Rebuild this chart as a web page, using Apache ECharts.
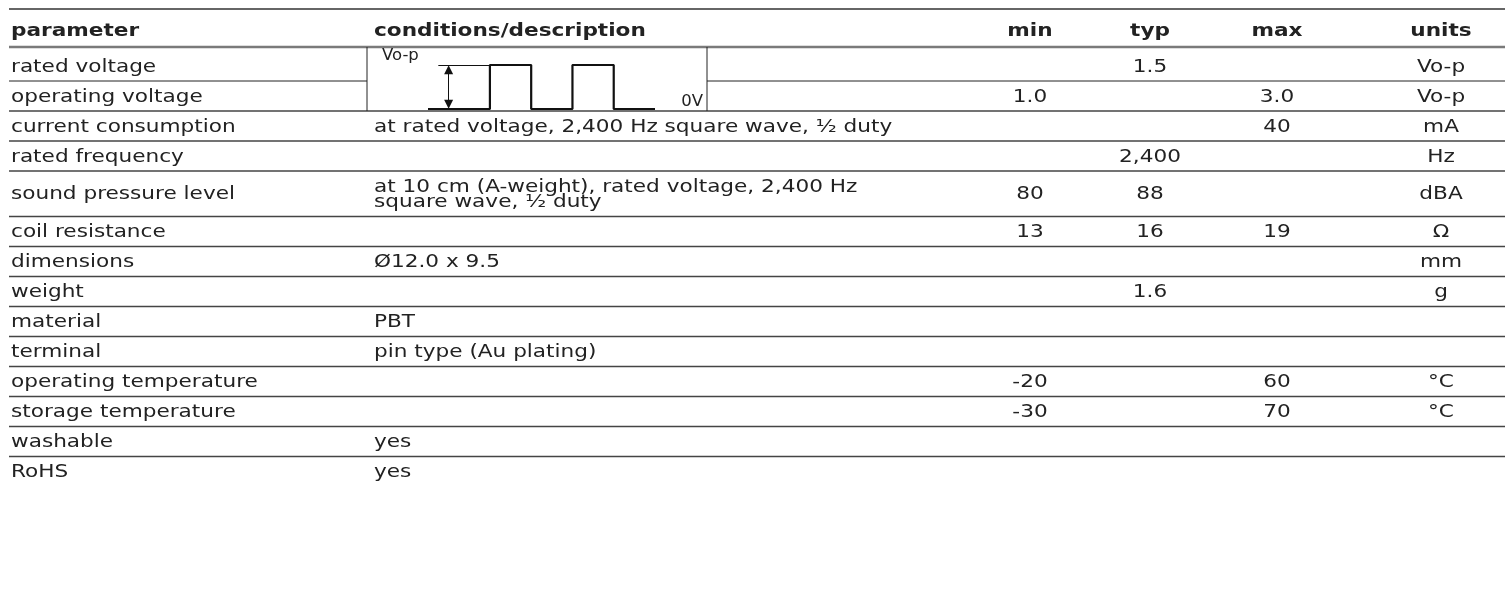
<!DOCTYPE html>
<html><head><meta charset="utf-8">
<script src="https://cdn.jsdelivr.net/npm/echarts@6/dist/echarts.min.js"></script>
<style>html,body{margin:0;padding:0;background:#fff}#c{width:1509px;height:595px}</style>
</head><body><div id="c"></div>
<script>
// ---- data ----
const headers = ['parameter', 'conditions/description', 'min', 'typ', 'max', 'units'];
const parameters = ['rated voltage', 'operating voltage', 'current consumption', 'rated frequency',
  'sound pressure level', 'coil resistance', 'dimensions', 'weight', 'material', 'terminal',
  'operating temperature', 'storage temperature', 'washable', 'RoHS'];
const conditions = ['', '', 'at rated voltage, 2,400 Hz square wave, ½ duty', '',
  'at 10 cm (A-weight), rated voltage, 2,400 Hz\nsquare wave, ½ duty', '', 'Ø12.0 x 9.5', '',
  'PBT', 'pin type (Au plating)', '', '', 'yes', 'yes'];
const minValues = ['', '1.0', '', '', '80', '13', '', '', '', '', '-20', '-30', '', ''];
const typValues = ['1.5', '', '', '2,400', '88', '16', '', '1.6', '', '', '', '', '', ''];
const maxValues = ['', '3.0', '40', '', '', '19', '', '', '', '', '60', '70', '', ''];
const units = ['Vo-p', 'Vo-p', 'mA', 'Hz', 'dBA', 'Ω', 'mm', 'g', '', '', '°C', '°C', '', ''];
// square-wave diagram (time in half-periods, level 0 = 0V, 1 = Vo-p)
const waveTime = [0, 1.5, 2.5, 3.5, 4.5, 5.5];
const waveLevel = [0, 1, 0, 1, 0, 0];
const diagramLabels = ['Vo-p', '0V'];

// ---- layout ----
const W = 1509, H = 595;
const L = {
  left: 9, right: 1505, top: 9, headerH: 38, firstRowH: 34, rowH: 30, extraLineH: 15.5,
  paramX: 11, condX: 374, centers: [1030, 1150, 1277, 1441], split1: 367, split2: 707,
  font: '"DejaVu Sans", Verdana, sans-serif', size: 18, stretch: 1.2, textDy: 1
};
const TEXT = '#222';
const lineCount = conditions.map(c => c.split('\n').length);
const rowTops = [];
let yy = L.top + L.headerH;
for (let i = 0; i < parameters.length; i++) {
  rowTops.push(yy);
  yy += (i === 0 ? L.firstRowH : L.rowH) + (lineCount[i] - 1) * L.extraLineH;
}
rowTops.push(yy);

function seg(api, x1, y1, x2, y2, color, width) {
  const a = api.coord([x1, y1]), b = api.coord([x2, y2]);
  return { type: 'line', shape: { x1: a[0], y1: a[1], x2: b[0], y2: b[1] },
    style: { stroke: color, lineWidth: width } };
}
function txt(api, x, y, s, align, bold, size, stretch) {
  const p = api.coord([x, y]);
  return { type: 'text', x: p[0], y: p[1], scaleX: stretch || L.stretch,
    style: { x: 0, y: 0, text: s, fill: TEXT, align: align, verticalAlign: 'middle',
      fontFamily: L.font, fontSize: size || L.size, fontWeight: bold ? 'bold' : 'normal',
      lineHeight: L.extraLineH } };
}

function renderItem(params, api) {
  const idx = api.value(0);
  const children = [];
  if (idx < 0) {
    const cy = L.top + L.headerH / 2 + 3;
    children.push(seg(api, L.left, L.top, L.right, L.top, '#333', 1.5));
    children.push(txt(api, L.paramX, cy, headers[0], 'left', true));
    children.push(txt(api, L.condX, cy, headers[1], 'left', true));
    for (let k = 0; k < 4; k++) children.push(txt(api, L.centers[k], cy, headers[k + 2], 'center', true));
    children.push(seg(api, L.left, L.top + L.headerH, L.right, L.top + L.headerH, '#7a7a7a', 2.5));
    return { type: 'group', children };
  }
  const top = rowTops[idx], bot = rowTops[idx + 1];
  const cy = (top + bot) / 2 + L.textDy + (idx === 0 ? 2 : 0);
  children.push(txt(api, L.paramX, cy, parameters[idx], 'left', false));
  if (conditions[idx]) children.push(txt(api, L.condX, cy, conditions[idx], 'left', false));
  const vals = [minValues[idx], typValues[idx], maxValues[idx], units[idx]];
  vals.forEach((v, k) => { if (v) children.push(txt(api, L.centers[k], cy, v, 'center', false)); });
  if (idx === 0) {
    children.push(seg(api, L.left, bot, L.split1, bot, '#222', 1));
    children.push(seg(api, L.split2, bot, L.right, bot, '#222', 1));
  } else if (idx < parameters.length - 1) {
    children.push(seg(api, L.left, bot, L.right, bot, '#444', 1.6));
  }
  if (idx <= 1) {
    children.push(seg(api, L.split1, top, L.split1, bot, '#222', 1));
    children.push(seg(api, L.split2, top, L.split2, bot, '#222', 1));
  }
  if (idx === 0) {
    children.push(txt(api, L.condX + 8, top + 9, diagramLabels[0], 'left', false, 15, 1.1));
  }
  if (idx === 1) {
    children.push(txt(api, L.split2 - 4, bot - 9, diagramLabels[1], 'right', false, 15, 1.1));
  }
  return { type: 'group', children };
}

const rowData = [[-1]].concat(parameters.map((p, i) => [i]));

const chart = echarts.init(document.getElementById('c'), null, { renderer: 'canvas' });
chart.setOption({
  animation: false,
  backgroundColor: '#fff',
  grid: [
    { left: 0, top: 0, width: W, height: H },
    { left: 428, top: 65, width: 227, height: 44 }
  ],
  xAxis: [
    { type: 'value', min: 0, max: W, show: false, gridIndex: 0 },
    { type: 'value', min: 0, max: 5.5, show: false, gridIndex: 1 }
  ],
  yAxis: [
    { type: 'value', min: 0, max: H, inverse: true, show: false, gridIndex: 0 },
    { type: 'value', min: 0, max: 1, show: false, gridIndex: 1 }
  ],
  series: [
    { type: 'custom', xAxisIndex: 0, yAxisIndex: 0, data: rowData, renderItem: renderItem, silent: true },
    {
      type: 'line', xAxisIndex: 1, yAxisIndex: 1, step: 'end', symbol: 'none', silent: true,
      data: waveTime.map((t, i) => [t, waveLevel[i]]),
      lineStyle: { color: '#111', width: 2.2 },
      markLine: {
        silent: true, animation: false, label: { show: false },
        lineStyle: { type: 'solid', color: '#111', width: 1 },
        data: [
          [{ coord: [0.5, 0.11], symbol: 'triangle', symbolSize: [9, 9] },
           { coord: [0.5, 0.89], symbol: 'triangle', symbolSize: [9, 9] }],
          [{ coord: [0.25, 1], symbol: 'none' }, { coord: [1.5, 1], symbol: 'none' }]
        ]
      }
    }
  ]
});
</script></body></html>
